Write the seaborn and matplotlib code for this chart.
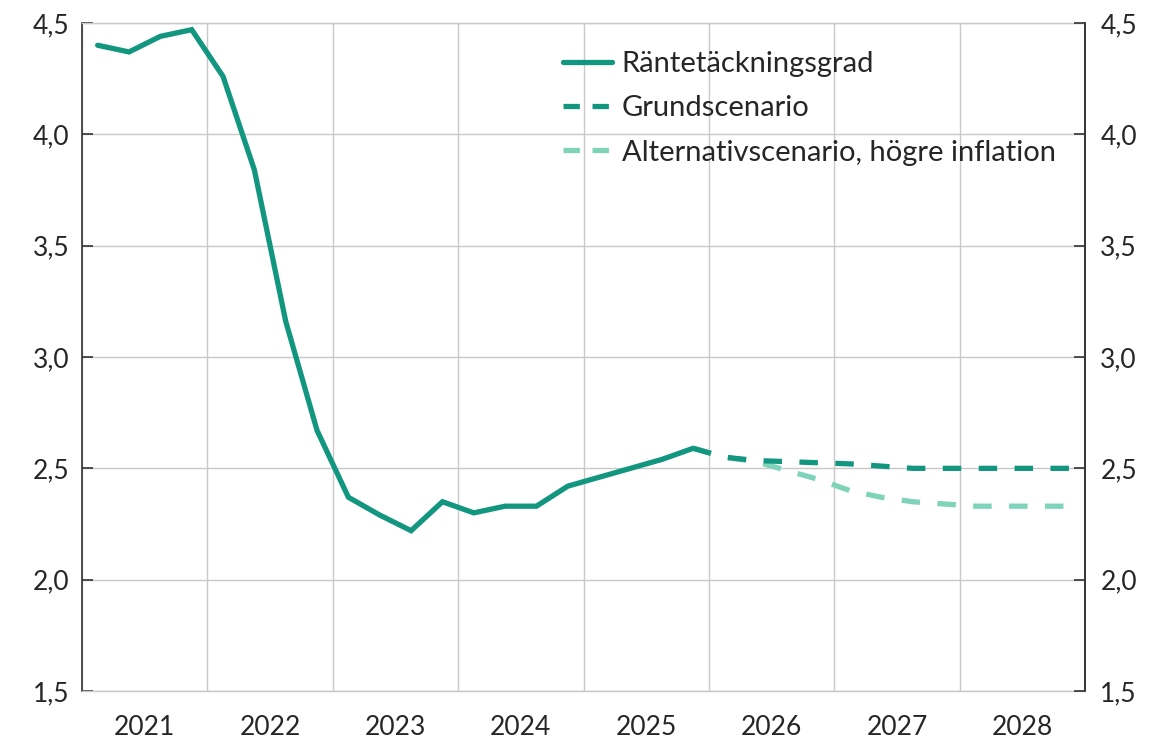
import matplotlib
matplotlib.use("Agg")
import matplotlib.pyplot as plt
import seaborn as sns
import pandas as pd
import numpy as np

# ---- data (quarterly) ----
hist_quarters = ["2021Q1","2021Q2","2021Q3","2021Q4",
                 "2022Q1","2022Q2","2022Q3","2022Q4",
                 "2023Q1","2023Q2","2023Q3","2023Q4",
                 "2024Q1","2024Q2","2024Q3","2024Q4",
                 "2025Q1","2025Q2","2025Q3","2025Q4"]
hist_values = [4.40, 4.37, 4.44, 4.47,
               4.26, 3.84, 3.16, 2.67,
               2.37, 2.29, 2.22, 2.35,
               2.30, 2.33, 2.33, 2.42,
               2.46, 2.50, 2.54, 2.59]

fc_quarters = ["2025Q4",
               "2026Q1","2026Q2","2026Q3","2026Q4",
               "2027Q1","2027Q2","2027Q3","2027Q4",
               "2028Q1","2028Q2","2028Q3","2028Q4"]
base_values = [2.59, 2.55, 2.535, 2.53, 2.525, 2.52, 2.51, 2.50, 2.50, 2.50, 2.50, 2.50, 2.50]
alt_values = [2.59, 2.55, 2.53, 2.49, 2.45, 2.40, 2.37, 2.35, 2.34, 2.33, 2.33, 2.33, 2.33]

year_labels = ["2021","2022","2023","2024","2025","2026","2027","2028"]
y_ticks = [1.5, 2.0, 2.5, 3.0, 3.5, 4.0, 4.5]

labels = ["Räntetäckningsgrad", "Grundscenario", "Alternativscenario, högre inflation"]

def qpos(q):
    y = int(q[:4]); n = int(q[-1])
    return y + (n - 0.5) / 4.0

dark = "#12967F"
light = "#7ED3B8"

sns.set_theme(style="white")
plt.rcParams['font.family'] = ['Lato', 'DejaVu Sans']

fig = plt.figure(figsize=(11.5, 7.43), dpi=100)
ax = fig.add_axes([82/1150, 1-691/743, (1085-82)/1150, (691-23)/743])

df_h = pd.DataFrame({"x": [qpos(q) for q in hist_quarters], "y": hist_values})
df_b = pd.DataFrame({"x": [qpos(q) for q in fc_quarters], "y": base_values})
df_a = pd.DataFrame({"x": [qpos(q) for q in fc_quarters], "y": alt_values})

lw = 3.8
sns.lineplot(data=df_a, x="x", y="y", ax=ax, color=light, lw=lw, label=labels[2])
sns.lineplot(data=df_b, x="x", y="y", ax=ax, color=dark, lw=lw, label=labels[1])
sns.lineplot(data=df_h, x="x", y="y", ax=ax, color=dark, lw=lw, label=labels[0])
lines = ax.get_lines()
for ln in lines[:2]:
    ln.set_dashes((3.5, 3.3))
    ln.set_dash_capstyle("butt")
for ln in lines:
    ln.set_solid_joinstyle("miter")

ax.set_xlim(2021, 2029)
ax.set_ylim(1.5, 4.5)
ax.set_xlabel("")
ax.set_ylabel("")

tick_fs = 19

# x: gridlines at year boundaries, labels centred
ax.set_xticks(np.arange(2021, 2030))
ax.set_xticklabels([])
ax.set_xticks([int(y) + 0.5 for y in year_labels], minor=True)
ax.set_xticklabels(year_labels, minor=True)
ax.tick_params(axis="x", which="both", length=0, labelsize=tick_fs, pad=17)
ax.xaxis.grid(True, which="major", color="#C8C8C8", lw=1.0)

ax.set_yticks(y_ticks)
ax.set_yticklabels([f"{v:.1f}".replace(".", ",") for v in y_ticks])
ax.yaxis.grid(True, color="#C8C8C8", lw=1.0)
ax.tick_params(axis="y", direction="in", length=8, width=1.2, color="#333333",
               labelsize=tick_fs, pad=9)

for s in ["top", "bottom"]:
    ax.spines[s].set_color("#C8C8C8")
    ax.spines[s].set_linewidth(1.0)
for s in ["left", "right"]:
    ax.spines[s].set_color("#333333")
    ax.spines[s].set_linewidth(1.2)

ax2 = ax.twinx()
ax2.set_ylim(ax.get_ylim())
ax2.set_yticks(y_ticks)
ax2.set_yticklabels([f"{v:.1f}".replace(".", ",") for v in y_ticks])
ax2.tick_params(axis="y", direction="in", length=8, width=1.2, color="#333333",
                labelsize=tick_fs, pad=11)
for s in ["top", "bottom", "left"]:
    ax2.spines[s].set_visible(False)
ax2.spines["right"].set_color("#333333")
ax2.spines["right"].set_linewidth(1.2)
ax2.grid(False)

handles, labs = ax.get_legend_handles_labels()
order = [labs.index(l) for l in labels]
leg = ax.legend([handles[i] for i in order], [labs[i] for i in order],
                loc="upper left", bbox_to_anchor=(0.4675, 0.975), frameon=False,
                fontsize=21, handlelength=1.7, handletextpad=0.33, labelspacing=0.62,
                borderaxespad=0)
leg_lines = leg.get_lines()
for h in leg_lines:
    h.set_linewidth(lw)
    h.set_dash_capstyle("butt")
leg_lines[1].set_dashes((3.1, 2.4))
leg_lines[2].set_dashes((3.1, 2.4))

fig.savefig("out.png", dpi=100)
